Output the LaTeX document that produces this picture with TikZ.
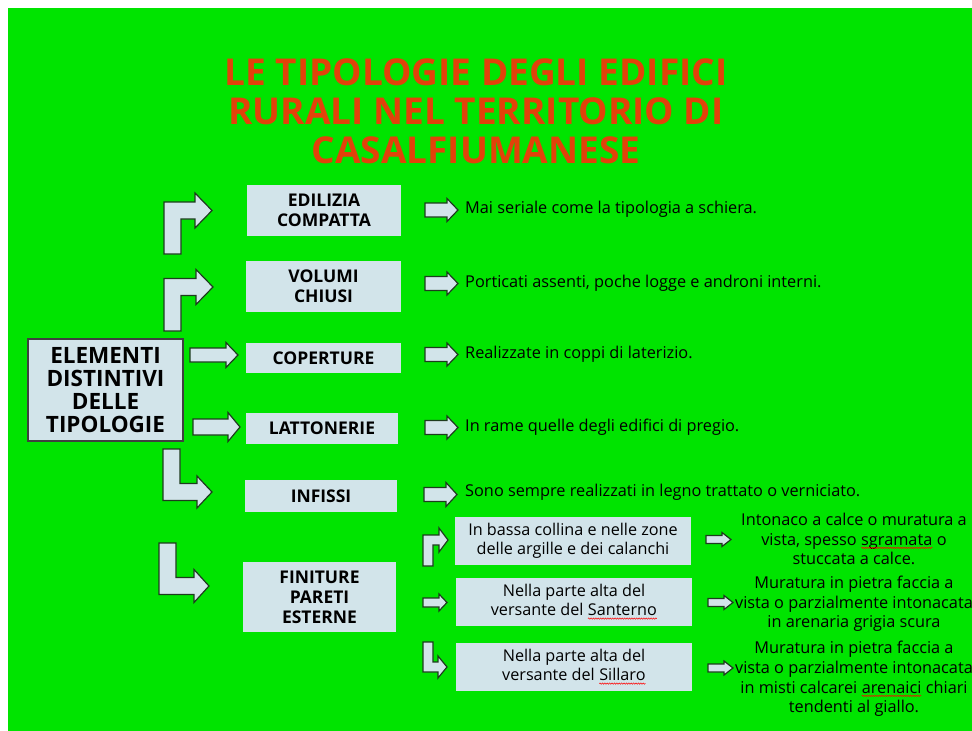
\documentclass[tikz,border=0pt]{standalone}
\usepackage{fontspec}
\setmainfont{Open Sans}
\usepackage{xcolor}
\usetikzlibrary{decorations.pathmorphing}

\definecolor{slidegreen}{RGB}{0,228,0}
\definecolor{boxblue}{RGB}{210,228,234}
\definecolor{arrowline}{RGB}{30,60,30}
\definecolor{titlered}{RGB}{226,66,10}

% red wavy underline for the marked words
\newcommand{\redwave}[1]{\tikz[baseline=(w.base),x=1pt,y=1pt]{%
  \node[inner sep=0pt, outer sep=0pt, minimum width=0pt, minimum height=0pt, fill=none, draw=none, anchor=base] (w) {#1};
  \draw[red, line width=0.5pt, decorate, decoration={snake, amplitude=0.7pt, segment length=2.4pt}]
    ([yshift=-2.8pt]w.base west) -- ([yshift=-2.8pt]w.base east);}}

% straight block arrow: tail x, centre y, length, shaft half, head half, head length
\newcommand{\blockarrow}[6]{%
  \draw[arrowbody] (#1,#2-#4) -- (#1+#3-#6,#2-#4) -- (#1+#3-#6,#2-#5) -- (#1+#3,#2)
    -- (#1+#3-#6,#2+#5) -- (#1+#3-#6,#2+#4) -- (#1,#2+#4) -- cycle;}
% bent block arrow: sign, x0, far end y, shaft centre y, tip x, thickness, head half, head length
\newcommand{\bentarrow}[8]{%
  \draw[arrowbody] (#2,#3) -- ({#2},{#4+(#1)*#6/2}) -- ({#5-#8},{#4+(#1)*#6/2})
    -- ({#5-#8},{#4+(#1)*#7}) -- (#5,#4) -- ({#5-#8},{#4-(#1)*#7})
    -- ({#5-#8},{#4-(#1)*#6/2}) -- ({#2+#6},{#4-(#1)*#6/2}) -- ({#2+#6},#3) -- cycle;}

\begin{document}
\begin{tikzpicture}[x=1pt,y=-1pt]
  \tikzstyle{box}=[fill=boxblue, inner sep=0pt, align=center, text=black]
  \tikzstyle{caps}=[box, font=\bfseries\fontsize{17.5}{20}\selectfont]
  \tikzstyle{plain}=[box, minimum width=236, minimum height=48, font=\fontsize{16.2}{19}\selectfont]
  \tikzstyle{note}=[inner sep=0pt, font=\fontsize{16.3}{19.6}\selectfont]
  \tikzstyle{arrowbody}=[fill=boxblue, draw=arrowline, line width=1.2pt]

  \useasboundingbox (0,0) rectangle (972,731);
  \fill[slidegreen] (8,8) rectangle (972,731);

  % title
  \node[font=\bfseries\fontsize{37}{39}\selectfont, text=titlered, align=center] (title) at (476,111)
    {LE TIPOLOGIE DEGLI EDIFICI\\RURALI NEL TERRITORIO DI\\CASALFIUMANESE};

  % left and middle column
  \node[caps, draw=black!75, line width=1.3pt, minimum width=155, minimum height=102,
        font=\bfseries\fontsize{22.5}{23}\selectfont] (elem) at (105.5,390) {ELEMENTI\\DISTINTIVI\\DELLE\\TIPOLOGIE};
  \node[caps, minimum width=154, minimum height=51] (edil)    at (324,210.5) {EDILIZIA\\COMPATTA};
  \node[caps, minimum width=155, minimum height=51] (volumi)  at (323.5,286.5) {VOLUMI\\CHIUSI};
  \node[caps, minimum width=155, minimum height=30] (coper)   at (323.5,358) {COPERTURE};
  \node[caps, minimum width=152, minimum height=31] (latto)   at (322,428.5) {LATTONERIE};
  \node[caps, minimum width=152, minimum height=32] (infissi) at (321,496) {INFISSI};
  \node[caps, minimum width=153, minimum height=70] (finit)   at (319.5,597) {FINITURE\\PARETI\\ESTERNE};

  % finiture sub boxes
  \node[plain] (bassa)    at (573,541) {In bassa collina e nelle zone\\delle argille e dei calanchi};
  \node[plain] (santerno) at (574,602) {Nella parte alta del\\versante del \redwave{Santerno}};
  \node[plain] (sillaro)  at (574,667) {Nella parte alta del\\versante del \redwave{Sillaro}};

  % descriptions
  \node[note, anchor=west] (mai)   at (465,209) {Mai seriale come la tipologia a schiera.};
  \node[note, anchor=west] (portic) at (465,283) {Porticati assenti, poche logge e androni interni.};
  \node[note, anchor=west] (realiz) at (465,354) {Realizzate in coppi di laterizio.};
  \node[note, anchor=west] (rame)  at (465,427) {In rame quelle degli edifici di pregio.};
  \node[note, anchor=west] (sono)  at (465,492) {Sono sempre realizzati in legno trattato o verniciato.};
  \node[note, align=center] (inton) at (854,539) {Intonaco a calce o muratura a\\vista, spesso \redwave{sgramata} o\\stuccata a calce.};
  \node[note, align=center] (mura)  at (854,604) {Muratura in pietra faccia a\\vista o parzialmente intonacata\\in arenaria grigia scura};
  \node[note, align=center] (murb)  at (854,679) {Muratura in pietra faccia a\\vista o parzialmente intonacata\\in misti calcarei \redwave{arenaici} chiari\\tendenti al giallo.};

  % block arrows
  \bentarrow{-1}{164}{254}{210.5}{212}{17}{17.5}{17}
  \bentarrow{-1}{164}{331}{287}{213}{17}{17.5}{17}
  \blockarrow{190}{355}{48}{7}{12.5}{12}
  \blockarrow{193}{427}{47}{8}{14.5}{12}
  \bentarrow{1}{163}{449}{492}{212}{17}{16}{15}
  \bentarrow{1}{159}{543}{586}{209}{17}{16.5}{15}

  \blockarrow{425}{210}{33}{7}{11.5}{11}
  \blockarrow{425}{283.5}{33}{7}{11.5}{11}
  \blockarrow{425}{354.5}{33}{7}{11.5}{11}
  \blockarrow{425}{427.5}{33}{7}{11.5}{11}
  \blockarrow{424}{494.5}{33}{7}{12}{11}

  \bentarrow{-1}{423}{566}{540}{448}{10}{12}{9}
  \blockarrow{423}{602.5}{24}{4.5}{8.5}{8}
  \bentarrow{1}{423}{642}{667}{447}{10}{11}{9}

  \blockarrow{706}{539.5}{25}{4}{7}{9}
  \blockarrow{708}{602.5}{25}{4}{7}{9}
  \blockarrow{708}{668}{25}{4}{7}{9}
\end{tikzpicture}
\end{document}
